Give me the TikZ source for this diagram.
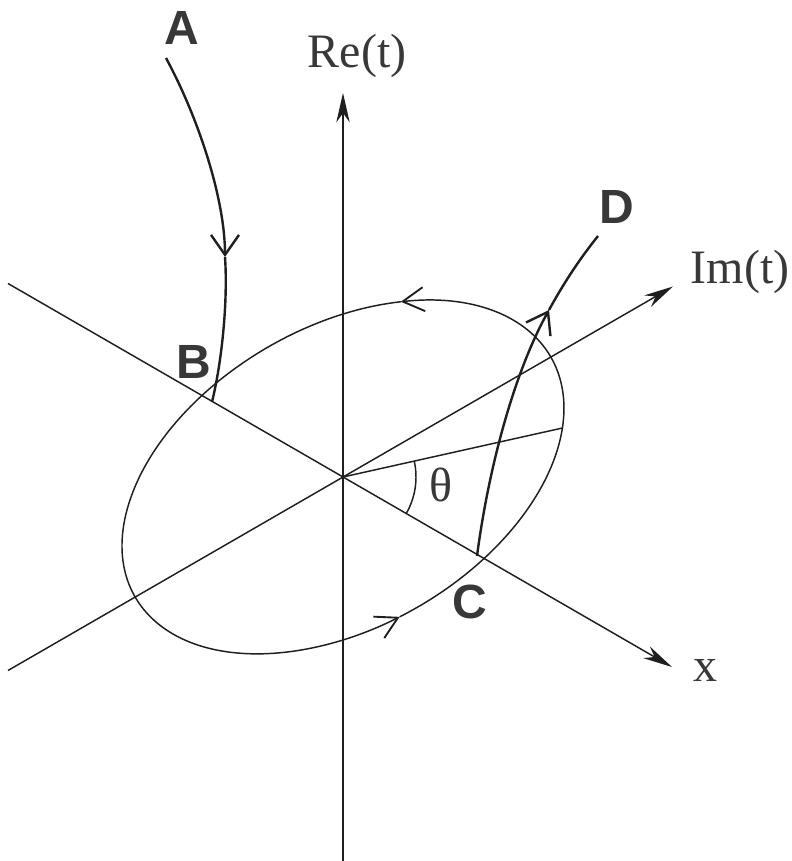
\documentclass[tikz,border=0pt]{standalone}
\usepackage{fontspec}
\setmainfont{Liberation Serif}
\newfontfamily\labfont{Liberation Sans}
\usetikzlibrary{arrows.meta}
\definecolor{ink}{rgb}{0.12,0.12,0.12}
\definecolor{txt}{rgb}{0.22,0.22,0.22}
\begin{document}
\begin{tikzpicture}[x=0.75pt,y=0.75pt,
  axisline/.style={line width=1.1pt, draw=ink, -{Stealth[length=22pt,width=10pt,inset=7pt]}},
  thinline/.style={line width=1.1pt, draw=ink},
  pathcurve/.style={line width=1.8pt, draw=ink},
  barbA/.style={-{Straight Barb[length=15pt,width=21pt]}},
  barbE/.style={-{Straight Barb[length=16pt,width=18pt,line width=1.4pt]}},
  seriflab/.style={inner sep=0pt, text=txt, font=\fontsize{36}{42}\selectfont},
  boldlab/.style={inner sep=0pt, text=txt, font=\labfont\bfseries\fontsize{36}{42}\selectfont}]
\useasboundingbox (0,0) rectangle (792,861);
% key points
\coordinate (O) at (343,384);
\coordinate (ReS) at (343,0);
\coordinate (ReE) at (343,768);
\coordinate (XS) at (8,577.5);
\coordinate (XE) at (672,194);
\coordinate (IS) at (8,190.5);
\coordinate (IE) at (673,574.5);
\coordinate (ThE) at (562.5,433);
\coordinate (Astart) at (166,803);
\coordinate (Atip) at (225,604);
\coordinate (Bpt) at (212,459);
\coordinate (Cpt) at (477,305);
\coordinate (Dtip) at (549,551);
\coordinate (Dend) at (598,625);
% axes
\draw[axisline] (ReS) -- (ReE);
\draw[axisline] (XS) -- (XE);
\draw[axisline] (IS) -- (IE);
% ellipse with direction arrows
\begin{scope}[shift={(O)}, rotate=30]
  \draw[thinline, barbE] (240,0) arc[start angle=0, end angle=55, x radius=240, y radius=150];
  \draw[thinline, barbE] (55:240 and 150) arc[start angle=55, end angle=265, x radius=240, y radius=150];
  \draw[thinline] (265:240 and 150) arc[start angle=265, end angle=360, x radius=240, y radius=150];
\end{scope}
% theta line and arc
\draw[thinline] (O) -- (ThE);
\draw[thinline] ([shift={(-30:73)}]O) arc[start angle=-30, end angle=12.6, radius=73];
% path A -> B
\draw[pathcurve, barbA] (Astart) .. controls (200,740) and (225,660) .. (Atip);
\draw[pathcurve] (Atip) .. controls (228,560) and (222,500) .. (Bpt);
% path C -> D
\draw[pathcurve, barbA] (Cpt) .. controls (489,396) and (515,490) .. (Dtip);
\draw[pathcurve] (Dtip) .. controls (566,582) and (582,605) .. (Dend);
% labels
\node[seriflab] (re) at (357,805) {Re(t)};
\node[seriflab] (im) at (740,589) {Im(t)};
\node[seriflab] (xl) at (705,191) {x};
\node[seriflab] (th) at (441,376) {θ};
\node[boldlab] (A) at (182,833.5) {A};
\node[boldlab] (B) at (194,499) {B};
\node[boldlab] (C) at (470,259) {C};
\node[boldlab] (D) at (617,654) {D};
\end{tikzpicture}
\end{document}
